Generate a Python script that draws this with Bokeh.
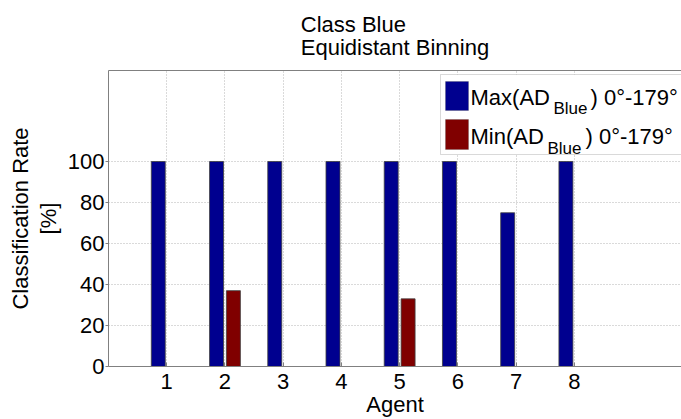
from bokeh.plotting import figure
from bokeh.models import (FixedTicker, LinearAxis, Range1d, BoxAnnotation, Label,
                          ColumnDataSource)
from bokeh.transform import dodge
from bokeh.embed import file_html
from bokeh.resources import INLINE

# ---------------- data ----------------
agents = [1, 2, 3, 4, 5, 6, 7, 8]
max_rate = [100, 100, 100, 100, 100, 100, 75, 100]
min_rate = [0, 37, 0, 0, 33, 0, 0, 0]
y_ticks = [0, 20, 40, 60, 80, 100]
legend_rows = [("Max(AD", "Blue", ") 0°-179°"), ("Min(AD", "Blue", ") 0°-179°")]
title_text = "Class Blue\nEquidistant Binning"
x_label = "Agent"
y_label = "Classification Rate\n[%]"

# ---------------- layout ----------------
W, H = 681, 419
FL, FT, FB = 108, 70, 53
X0, X1 = 0, 9.84
Y0, Y1 = 0, 144.4
FRAME_W = W - FL
FRAME_H = H - FT - FB

def dx(cx):
    return X0 + (cx - FL) / FRAME_W * (X1 - X0)

def dy(cy):
    return Y0 + (H - FB - cy) / FRAME_H * (Y1 - Y0)

BLUE = "#00008F"
RED = "#800000"
GRAY = "#808080"
FONT = "Liberation Sans"
FS = "22px"

p = figure(width=W, height=H, output_backend="svg", toolbar_location=None,
           x_range=Range1d(X0, X1), y_range=Range1d(Y0, Y1),
           min_border_left=FL, min_border_right=0, min_border_top=FT,
           min_border_bottom=FB, title=title_text)
p.outline_line_color = None
p.background_fill_color = "white"
p.border_fill_color = "white"

p.title.align = "center"
p.title.vertical_align = "top"
p.title.text_font = FONT
p.title.text_font_size = FS
p.title.text_font_style = "normal"
p.title.text_color = "black"
p.title.text_line_height = 0.9
p.title.standoff = 17

src = ColumnDataSource(dict(agent=agents, mx=max_rate, mn=min_rate))
p.vbar(x=dodge("agent", -0.145, range=p.x_range), top="mx", width=0.24, bottom=0,
       source=src, fill_color=BLUE, line_color="#404040", line_width=0.8)
p.vbar(x=dodge("agent", 0.145, range=p.x_range), top="mn", width=0.24, bottom=0,
       source=src, fill_color=RED, line_color="#404040", line_width=0.8)

# axes
p.xaxis.ticker = FixedTicker(ticks=agents)
p.yaxis.ticker = FixedTicker(ticks=y_ticks)
for ax in (p.xaxis[0], p.yaxis[0]):
    ax.axis_line_color = GRAY
    ax.major_tick_line_color = GRAY
    ax.minor_tick_line_color = None
    ax.major_label_text_font = FONT
    ax.major_label_text_font_size = FS
    ax.major_label_text_color = "black"
    ax.axis_label_text_font = FONT
    ax.axis_label_text_font_size = FS
    ax.axis_label_text_font_style = "normal"
    ax.axis_label_text_color = "black"
p.xaxis.major_tick_in = 4
p.xaxis.major_tick_out = 0
p.yaxis.major_tick_in = 0
p.yaxis.major_tick_out = 3
p.xaxis.axis_label = x_label
p.xaxis.major_label_standoff = 7
p.xaxis.axis_label_standoff = 0
p.yaxis.axis_label = y_label
p.yaxis.major_label_standoff = 1
p.yaxis.axis_label_standoff = 4
p.yaxis.axis_label_text_line_height = 1.1

top_ax = LinearAxis(ticker=FixedTicker(ticks=[]), axis_line_color=GRAY,
                    major_tick_line_color=None, minor_tick_line_color=None,
                    major_tick_out=12)
p.add_layout(top_ax, "above")

# grid
p.xgrid.ticker = FixedTicker(ticks=agents)
p.ygrid.ticker = FixedTicker(ticks=y_ticks)
for g in (p.xgrid[0], p.ygrid[0]):
    g.grid_line_color = "#b4b4b4"
    g.grid_line_dash = "1 2"
    g.grid_line_width = 1

# legend (manual, to allow subscripts)
p.add_layout(BoxAnnotation(left=dx(440), right=X1 + 2, top=dy(74), bottom=dy(154),
                           fill_color="white", fill_alpha=1, line_color=GRAY,
                           line_width=1, level="overlay"))
sw_rows = [(81, 110, BLUE), (119, 149, RED)]
for (t, b, c) in sw_rows:
    p.add_layout(BoxAnnotation(left=dx(445), right=dx(468), top=dy(t), bottom=dy(b),
                               fill_color=c, fill_alpha=1, line_color="#404040",
                               line_width=0.8, level="overlay"))
txt_pos = [(97, 108, 553, 590), (136, 148, 547, 585)]
for (main, sub, rest), (bl, sbl, sx, rx) in zip(legend_rows, txt_pos):
    p.add_layout(Label(x=dx(470), y=dy(bl), text=main, text_font=FONT,
                       text_font_size="22px", text_baseline="alphabetic",
                       text_align="left", text_color="black", level="overlay"))
    p.add_layout(Label(x=dx(sx), y=dy(sbl), text=sub, text_font=FONT,
                       text_font_size="17px", text_baseline="alphabetic",
                       text_align="left", text_color="black", level="overlay"))
    p.add_layout(Label(x=dx(rx), y=dy(bl), text=rest, text_font=FONT,
                       text_font_size="22px", text_baseline="alphabetic",
                       text_align="left", text_color="black", level="overlay"))

open("out.html", "w").write(file_html(p, INLINE))
